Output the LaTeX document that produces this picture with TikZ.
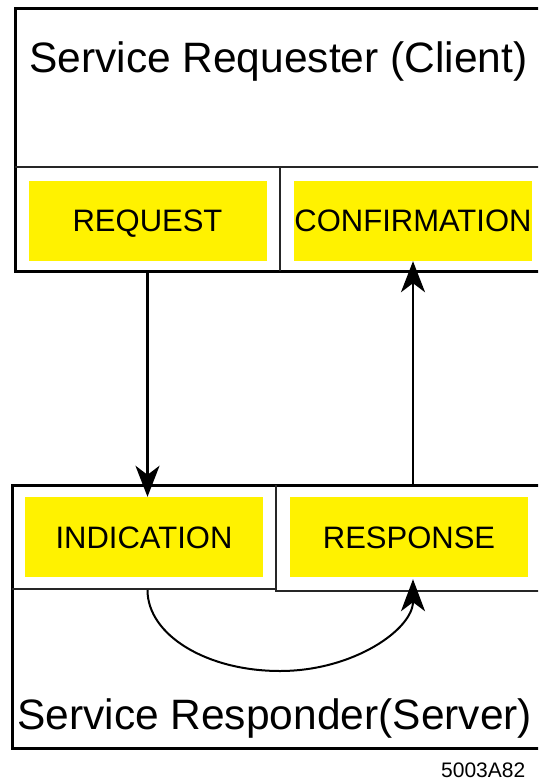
\documentclass[tikz,border=0pt]{standalone}
\usepackage{fontspec}
\setmainfont{Liberation Sans}
\usetikzlibrary{arrows.meta,calc}
\begin{document}
\begin{tikzpicture}[x=1pt,y=-1pt,
  frame/.style={line width=3pt},
  divider/.style={line width=1.5pt, draw=black!85},
  prim/.style={fill=yellow, inner sep=0pt, minimum width=238pt, minimum height=80pt,
    text height=22pt, text depth=0pt, font=\fontsize{31}{31}\selectfont},
  flow/.style={line width=2.5pt, -{Stealth[length=31pt,width=24pt,inset=9pt]}},
  loopflow/.style={line width=2pt, -{Stealth[length=32pt,width=24pt,inset=9pt]}},
  title/.style={anchor=base west, inner sep=0pt, font=\fontsize{42.5}{42.5}\selectfont},
  tag/.style={anchor=base west, inner sep=0pt, font=\fontsize{21}{21}\selectfont}
]
\useasboundingbox (0,0) rectangle (538,783);
\begin{scope}
\clip (0,0) rectangle (538,783);
% client frame
\draw[frame] (15,9) rectangle (570,271);
\draw[divider] (15,167) -- (570,167);
\draw[divider] (280,167) -- (280,271);
\node[title] (client) at (29,73) {Service Requester (Client)};
\node[prim] (req) at (147.5,221) {REQUEST};
\node[prim] (conf) at (413,221) {CONFIRMATION};
\coordinate (clientbot) at (0,271);
% server frame
\draw[frame] (12,485) rectangle (570,748);
\draw[divider] (12,589) -- (276,589);
\draw[divider] (276,485) -- (276,591) -- (570,591);
\node[prim] (ind) at (144,537) {INDICATION};
\node[prim] (resp) at (409,537) {RESPONSE};
\node[title] (server) at (17,729) {Service Responder(Server)};
\coordinate (servertop) at (0,485);
\coordinate (serverdiv) at (0,590);
\coordinate (loopbot) at (280,671);
% connectors
\draw[flow] (req.south |- clientbot) -- (req.south |- ind.north);
\draw[flow] (conf.south |- servertop) -- (conf.south);
\draw[loopflow] (req.south |- serverdiv) .. controls +(0,45) and +(-73.5,0) .. (loopbot)
  .. controls +(73.5,0) and +(0,50) .. ($(conf.south |- resp.south)+(0,2)$);
\node[tag] (code) at (441,777) {5003A82};
\end{scope}
\end{tikzpicture}
\end{document}
